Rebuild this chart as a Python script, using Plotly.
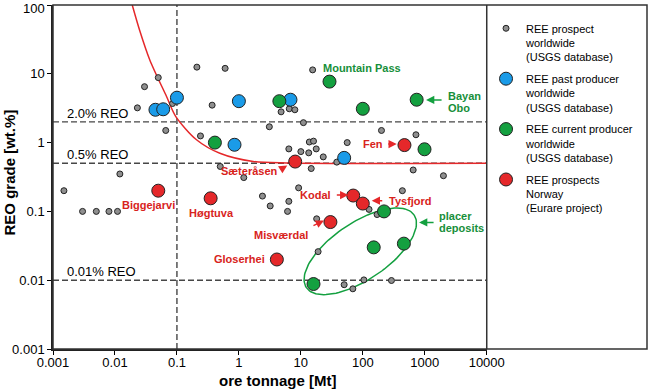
import numpy as np
import plotly.graph_objects as go

# ---------------- data ----------------
prospect_t = [0.21, 0.6, 0.05, 0.03, 0.023, 0.085, 0.37, 0.066, 0.24, 0.5, 1.2, 0.012, 0.0015,
              15.5, 4.8, 6.5, 8.0, 3.1, 11, 200, 720, 6.4, 10, 13.7, 16, 13.4, 17.7, 23, 56, 53, 38,
              14.7, 650, 2000, 2.4, 9.2, 435, 3.2, 6.4, 6.1, 126, 170, 18, 19, 50, 69, 104, 290,
              0.003, 0.005, 0.008, 0.011]
prospect_g = [12.5, 12, 8.8, 6.5, 3.2, 3.7, 3.5, 1.5, 1.25, 0.45, 0.31, 0.35, 0.2,
              11.4, 2.8, 3.1, 3.0, 1.7, 1.95, 1.5, 1.3, 0.81, 0.74, 1.02, 1.05, 0.71, 0.81, 0.62, 1.0, 0.54, 0.52,
              0.42, 0.4, 0.33, 0.167, 0.22, 0.2, 0.12, 0.14, 0.1, 0.107, 0.09, 0.078, 0.026, 0.0086, 0.0075, 0.0101, 0.0099,
              0.1, 0.1, 0.1, 0.1]

past_t = [0.045, 0.06, 0.1, 1.0, 0.85, 6.8, 50]
past_g = [3.0, 3.05, 4.5, 4.0, 0.93, 4.2, 0.6]

current_t = [0.41, 4.5, 29, 740, 100, 990, 220, 150, 460, 16]
current_g = [1.0, 4.0, 7.7, 4.2, 3.1, 0.8, 0.1, 0.03, 0.034, 0.0088]

norway_names = ["Biggejarvi", "Høgtuva", "Gloserhei", "Misværdal", "Kodal", "Tysfjord", "Sæteråsen", "Fen"]
norway_t = [0.05, 0.35, 4.1, 30, 70, 100, 8.1, 470]
norway_g = [0.2, 0.155, 0.02, 0.07, 0.17, 0.13, 0.53, 0.92]

curve_t = [0.019, 0.025, 0.0365, 0.068, 0.096, 0.207, 0.493, 1.7, 5.9, 10000]
curve_g = [100, 43, 15.9, 4.67, 2.39, 1.10, 0.70, 0.532, 0.505, 0.5]

grade_lines = [2.0, 0.5, 0.01]
grade_labels = ["2.0% REO", "0.5% REO", "0.01% REO"]
tonnage_line = 0.1

x_tickvals = [0.001, 0.01, 0.1, 1, 10, 100, 1000, 10000]
x_ticktext = ["0.001", "0.01", "0.1", "1", "10", "100", "1000", "10000"]
y_tickvals = [0.001, 0.01, 0.1, 1, 10, 100]
y_ticktext = ["0.001", "0.01", "0.1", "1", "10", "100"]

# ---------------- styles ----------------
FONT = "Arial, 'Liberation Sans', sans-serif"
GRAY = "#8f8f8f"
BLUE = "#1a9be8"
GREEN = "#14a040"
RED = "#e5282a"
RED_TXT = "#d8231c"
GREEN_TXT = "#178f3a"
EDGE = "#222222"
DASH = "#474747"
XD = 0.7302  # x-axis domain end (legend panel to the right)
T_MARGIN, B_MARGIN = 5, 42
PLOT_H = 391 - T_MARGIN - B_MARGIN

fig = go.Figure()

# reference lines
for g in grade_lines:
    fig.add_trace(go.Scatter(x=[x_tickvals[0], x_tickvals[-1]], y=[g, g], mode="lines",
                             line=dict(color=DASH, width=1.4, dash="6px,3px"),
                             showlegend=False, hoverinfo="skip"))
fig.add_trace(go.Scatter(x=[tonnage_line, tonnage_line], y=[y_tickvals[0], y_tickvals[-1]], mode="lines",
                         line=dict(color=DASH, width=1.4, dash="6px,3px"),
                         showlegend=False, hoverinfo="skip"))

# red economic curve
fig.add_trace(go.Scatter(x=curve_t, y=curve_g, mode="lines",
                         line=dict(color=RED, width=1.5, shape="spline", smoothing=0.8),
                         showlegend=False, hoverinfo="skip"))

# placer deposits ellipse (drawn in log space)
c_lx, c_ly = np.log10(91), np.log10(0.0263)
a_px, b_px, th = 65.0, 28.5, np.deg2rad(34)
tt = np.linspace(0, 2 * np.pi, 121)
dx = a_px * np.cos(th) * np.cos(tt) - b_px * np.sin(th) * np.sin(tt)
dy = a_px * np.sin(th) * np.cos(tt) + b_px * np.cos(th) * np.sin(tt)
fig.add_trace(go.Scatter(x=10 ** (c_lx + dx / 61.96), y=10 ** (c_ly + dy / 68.8), mode="lines",
                         line=dict(color=GREEN, width=1.5), showlegend=False, hoverinfo="skip"))

# markers
fig.add_trace(go.Scatter(x=prospect_t, y=prospect_g, mode="markers",
                         name="REE prospect<br>worldwide<br>(USGS database)", legendgroup="a",
                         marker=dict(size=6, color=GRAY, line=dict(color=EDGE, width=1))))
fig.add_trace(go.Scatter(x=past_t, y=past_g, mode="markers",
                         name="REE past producer<br>worldwide<br>(USGS database)", legendgroup="b",
                         marker=dict(size=13, color=BLUE, line=dict(color=EDGE, width=1))))
fig.add_trace(go.Scatter(x=current_t, y=current_g, mode="markers",
                         name="REE current producer<br>worldwide<br>(USGS database)", legendgroup="c",
                         marker=dict(size=13, color=GREEN, line=dict(color=EDGE, width=1))))
fig.add_trace(go.Scatter(x=norway_t, y=norway_g, mode="markers", text=norway_names,
                         name="REE prospects<br>Norway<br>(Eurare project)", legendgroup="d",
                         marker=dict(size=13, color=RED, line=dict(color=EDGE, width=1))))

L = np.log10
ann = []


def label(text, x, y, color, xanchor="center", yanchor="middle", size=11, bold=True):
    ann.append(dict(text=f"<b>{text}</b>" if bold else text, x=x, y=y, xref="x", yref="y",
                    showarrow=False, xanchor=xanchor, yanchor=yanchor,
                    font=dict(size=size, color=color, family=FONT)))


def arrow(x, y, ax, ay, color):
    ann.append(dict(text="", x=x, y=y, xref="x", yref="y", ax=ax, ay=ay, axref="pixel", ayref="pixel",
                    showarrow=True, arrowhead=2, arrowsize=1.1, arrowwidth=1.5, arrowcolor=color,
                    standoff=0, startstandoff=0))


# grade-line labels
for g, t in zip(grade_lines, grade_labels):
    ann.append(dict(text=t, x=L(0.00158), y=L(g), xref="x", yref="y", showarrow=False,
                    xanchor="left", yanchor="bottom", yshift=-1,
                    font=dict(size=13, color="black", family=FONT)))

# deposit labels
label("Mountain Pass", 1.987, 1.086, GREEN_TXT)
label("Bayan", 3.339, 0.683, GREEN_TXT, xanchor="left")
label("Obo", 3.339, 0.500, GREEN_TXT, xanchor="left")
arrow(3.021, 0.621, 17, 0, GREEN)
label("placer", 3.204, -1.062, GREEN_TXT, xanchor="left")
label("deposits", 3.204, -1.240, GREEN_TXT, xanchor="left")
arrow(2.908, -1.160, 16, 0, GREEN)

label("Fen", 2.359, -0.022, RED_TXT, xanchor="right")
arrow(2.548, -0.022, -10, 0, RED)
label("Sæteråsen", 0.662, -0.409, RED_TXT, xanchor="right")
arrow(0.780, -0.332, -8, 5, RED)
label("Kodal", 1.523, -0.762, RED_TXT, xanchor="right")
arrow(1.766, -0.762, -13, 0, RED)
label("Tysfjord", 2.386, -0.845, RED_TXT, xanchor="left")
arrow(2.144, -0.845, 12, 0, RED)
label("Misværdal", 1.147, -1.338, RED_TXT, xanchor="right")
arrow(1.373, -1.131, -12, 6, RED)
label("Gloserhei", 0.452, -1.691, RED_TXT, xanchor="right")
label("Biggejarvi", -1.465, -0.903, RED_TXT)
label("Høgtuva", -0.436, -1.023, RED_TXT)

# top y tick label ("100") kept inside the page: drawn as text just below the top edge
y_ticktext_axis = list(y_ticktext)
y_ticktext_axis[-1] = ""
ann.append(dict(text=y_ticktext[-1], x=0, y=1 + T_MARGIN / PLOT_H, xref="paper", yref="paper",
                showarrow=False, xanchor="right", yanchor="top", xshift=-7, borderpad=0,
                font=dict(size=13, color="black", family=FONT)))

# axis titles
ann.append(dict(text="<b>ore tonnage [Mt]</b>", x=0.379, y=-0.0930, xref="paper", yref="paper",
                showarrow=False, xanchor="center", yanchor="middle",
                font=dict(size=15, color="black", family=FONT)))
ann.append(dict(text="<b>REO grade [wt.%]</b>", x=-0.0724, y=0.513, xref="paper", yref="paper",
                showarrow=False, xanchor="center", yanchor="middle", textangle=-90,
                font=dict(size=15, color="black", family=FONT)))

fig.update_layout(
    width=650, height=391,
    margin=dict(l=53, r=3, t=T_MARGIN, b=B_MARGIN, autoexpand=False),
    plot_bgcolor="white", paper_bgcolor="white",
    font=dict(family=FONT, size=13, color="black"),
    annotations=ann,
    showlegend=True,
    legend=dict(x=0.729, y=0.972, xanchor="left", yanchor="top", font=dict(size=11, family=FONT),
                valign="top", tracegroupgap=4.5, itemsizing="trace", bgcolor="rgba(0,0,0,0)"),
    shapes=[
        dict(type="rect", xref="paper", yref="paper", x0=0, x1=1, y0=0, y1=1,
             line=dict(color="#333333", width=1.5)),
        dict(type="line", xref="paper", yref="paper", x0=XD, x1=XD, y0=0, y1=1,
             line=dict(color="#333333", width=1.5)),
    ],
    xaxis=dict(type="log", range=[-3, 4], domain=[0, XD], tickvals=x_tickvals, ticktext=x_ticktext,
               ticks="outside", ticklen=4, tickcolor="black", showline=True, linecolor="#222222",
               linewidth=1.5, showgrid=False, zeroline=False, tickfont=dict(size=13),
               ticklabelstandoff=-3, ticklabeloverflow="allow"),
    yaxis=dict(type="log", range=[-3, 2], tickvals=y_tickvals, ticktext=y_ticktext_axis,
               ticks="outside", ticklen=4, tickcolor="black", showline=True, linecolor="#222222",
               linewidth=1.5, showgrid=False, zeroline=False, tickfont=dict(size=13),
               ticklabeloverflow="allow"),
)

fig.write_html("out.html", config={"displayModeBar": False},
               post_script="document.body.style.margin='0px';document.body.style.overflow='hidden';")
